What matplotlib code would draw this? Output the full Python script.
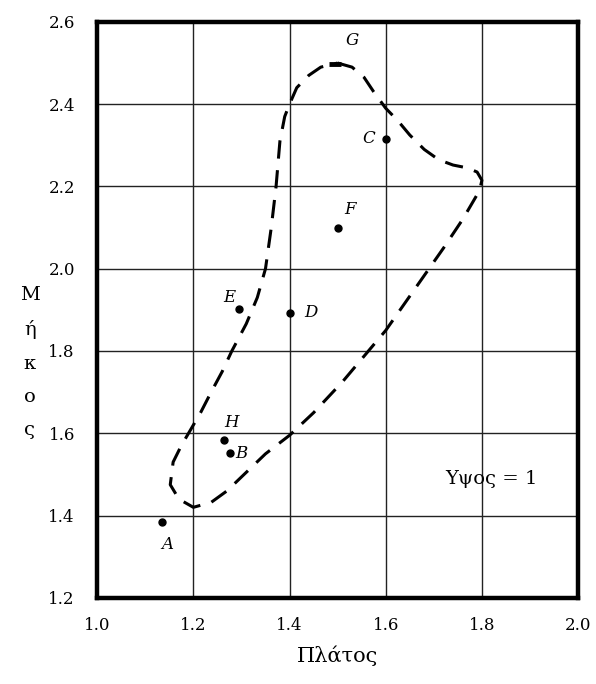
import matplotlib
matplotlib.use("Agg")
import matplotlib.pyplot as plt

plt.rcParams['font.family'] = ['DejaVu Serif']

# points
names = ['A', 'B', 'C', 'D', 'E', 'F', 'G', 'H']
pt_x = [1.134, 1.276, 1.60, 1.40, 1.295, 1.50, 1.495, 1.264]
pt_y = [1.385, 1.551, 2.316, 1.893, 1.902, 2.10, 2.497, 1.583]
# label positions
lab_x = [1.145, 1.30, 1.565, 1.445, 1.275, 1.525, 1.53, 1.28]
lab_y = [1.33, 1.55, 2.316, 1.893, 1.93, 2.145, 2.555, 1.625]

# dashed boundary
curve_x = [1.50, 1.53, 1.555, 1.575, 1.60, 1.625, 1.65, 1.68, 1.71, 1.74,
           1.77, 1.79, 1.80, 1.795, 1.76, 1.72, 1.66, 1.60, 1.51, 1.45,
           1.40, 1.35, 1.31, 1.27, 1.237, 1.20, 1.17, 1.152, 1.158, 1.175,
           1.19, 1.215, 1.237, 1.26, 1.28, 1.31, 1.333, 1.35, 1.362, 1.372,
           1.38, 1.39, 1.40, 1.415, 1.44, 1.465, 1.50]
curve_y = [2.50, 2.49, 2.465, 2.43, 2.39, 2.36, 2.325, 2.29, 2.265, 2.252,
           2.245, 2.235, 2.215, 2.19, 2.12, 2.05, 1.95, 1.85, 1.725, 1.65,
           1.595, 1.55, 1.505, 1.46, 1.432, 1.42, 1.44, 1.475, 1.53, 1.57,
           1.60, 1.65, 1.70, 1.75, 1.80, 1.866, 1.93, 2.00, 2.10, 2.20,
           2.31, 2.37, 2.40, 2.44, 2.47, 2.49, 2.50]

xticks = [1.0, 1.2, 1.4, 1.6, 1.8, 2.0]
yticks = [1.2, 1.4, 1.6, 1.8, 2.0, 2.2, 2.4, 2.6]

fig = plt.figure(figsize=(5.96, 6.84), dpi=100)
ax = fig.add_axes([0.163, 0.126, 0.807, 0.842])

ax.set_xlim(1.0, 2.0)
ax.set_ylim(1.2, 2.6)
ax.set_xticks(xticks)
ax.set_yticks(yticks)
ax.set_xticklabels(['%.1f' % v for v in xticks], fontsize=12)
ax.set_yticklabels(['%.1f' % v for v in yticks], fontsize=12)
ax.tick_params(axis='x', length=0, pad=14)
ax.tick_params(axis='y', length=0, pad=16)
ax.grid(True, color='#222222', linewidth=1.0)
ax.set_axisbelow(True)
for s in ax.spines.values():
    s.set_linewidth(3.2)

ax.plot(curve_x, curve_y, color='black', linewidth=2.2,
        linestyle=(0, (6, 3.8)), dash_capstyle='butt')

for i, n in enumerate(names):
    if n == 'G':
        ax.plot(pt_x[i], pt_y[i], marker='_', markersize=9,
                markeredgewidth=3.5, color='black')
    else:
        ax.plot(pt_x[i], pt_y[i], 'o', markersize=5, color='black')
    ax.text(lab_x[i], lab_y[i], n, fontsize=12, style='italic',
            ha='center', va='center')

ax.text(1.82, 1.49, 'Υψος = 1', fontsize=14, ha='center', va='center')

fig.text(0.567, 0.042, 'Πλάτος', fontsize=15, ha='center', va='center')
fig.text(0.05, 0.47, 'Μ\nή\nκ\nο\nς', fontsize=14, ha='center', va='center',
         linespacing=2.1)

fig.savefig('out.png', dpi=100)
